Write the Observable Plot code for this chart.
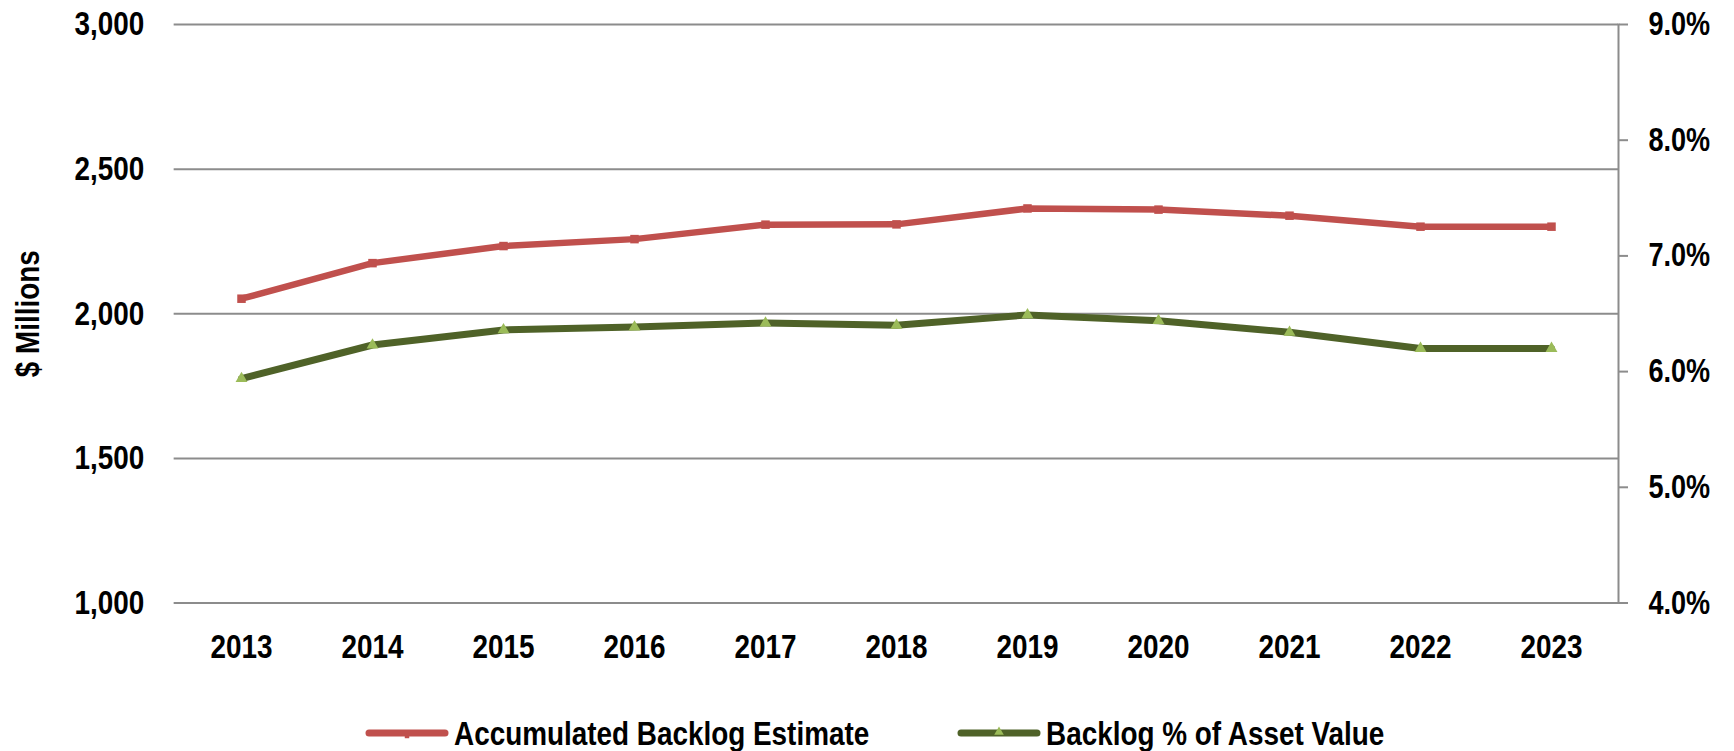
<!DOCTYPE html>
<html><head><meta charset="utf-8">
<script src="https://cdn.jsdelivr.net/npm/d3@7"></script>
<script src="https://cdn.jsdelivr.net/npm/@observablehq/plot@0.6"></script>
<style>
body{margin:0;background:#fff;width:1734px;height:751px;overflow:hidden;position:relative;font-family:"Liberation Sans","Arial",sans-serif;font-weight:bold;}
#chart{position:absolute;left:0;top:0;}
.legend-item{position:absolute;top:711px;height:44px;display:flex;align-items:center;font-size:34px;color:#000;white-space:nowrap;}
.legend-item svg{margin-right:5px;flex:none;}
.legend-item span{display:inline-block;transform:scaleX(0.82);transform-origin:0 50%;}
</style></head><body>
<div id="chart"></div>
<div id="legend"></div>
<script>
const years = ["2013","2014","2015","2016","2017","2018","2019","2020","2021","2022","2023"];
const backlog = [2052, 2175, 2234, 2258, 2308, 2309, 2364, 2360, 2339, 2301, 2301];
const backlogPct = [5.94, 6.23, 6.36, 6.385, 6.42, 6.40, 6.49, 6.44, 6.34, 6.20, 6.20];
const leftTicks = [1000, 1500, 2000, 2500, 3000];
const rightTicks = [4, 5, 6, 7, 8, 9];
const seriesNames = ["Accumulated Backlog Estimate", "Backlog % of Asset Value"];
const yTitle = "$ Millions";

const RED = "#C0504D", DKGREEN = "#4F6228", LTGREEN = "#9BBB59", GRID = "#8c8c8c";
const FONT = '"Liberation Sans","Arial",sans-serif';

// right axis (4%..9%) mapped onto the left scale (1000..3000)
const pctToLeft = p => 1000 + (p - 4) * (2000 / 5);
const leftToPct = v => (v - 1000) / 400 + 4;

const data = years.map((year, i) => ({year, backlog: backlog[i], pct: backlogPct[i]}));

const chart = Plot.plot({
  width: 1734, height: 690,
  marginTop: 24, marginBottom: 87.5, marginLeft: 173.65, marginRight: 116,
  style: {fontFamily: FONT, fontWeight: "bold", fontSize: "33px", color: "#000", background: "transparent"},
  x: {type: "point", domain: years, padding: 0.5},
  y: {domain: [1000, 3000]},
  marks: [
    Plot.gridY(leftTicks, {stroke: GRID, strokeOpacity: 1, strokeWidth: 2}),
    Plot.frame({anchor: "right", stroke: GRID, strokeOpacity: 1, strokeWidth: 2}),
    Plot.axisX({tickSize: 0, tickPadding: 31, label: null, fontSize: 34}),
    Plot.axisY(leftTicks, {anchor: "left", tickSize: 0, tickPadding: 30, tickFormat: d3.format(","),
      label: yTitle, labelAnchor: "center", labelOffset: 159, labelArrow: "none", fontSize: 34}),
    Plot.axisY(rightTicks.map(pctToLeft), {anchor: "right", tickSize: 9, tickPadding: 21,
      tickFormat: v => leftToPct(v).toFixed(1) + "%", stroke: GRID, strokeWidth: 2, label: null, fontSize: 33}),
    Plot.line(data, {x: "year", y: "backlog", stroke: RED, strokeWidth: 6.5}),
    Plot.dot(data, {x: "year", y: "backlog", symbol: "square", r: 4.8, fill: RED}),
    Plot.line(data, {x: "year", y: d => pctToLeft(d.pct), stroke: DKGREEN, strokeWidth: 7}),
    Plot.dot(data, {x: "year", y: d => pctToLeft(d.pct), symbol: "triangle", r: 4.4, fill: LTGREEN})
  ]
});
document.getElementById("chart").appendChild(chart);

// condense all chart text to an Arial-Narrow-like width
chart.querySelectorAll("text").forEach(t => {
  const len = t.getComputedTextLength();
  if (len > 0) {
    t.setAttribute("textLength", (len * 0.82).toFixed(2));
    t.setAttribute("lengthAdjust", "spacingAndGlyphs");
  }
});

// legend
const legend = document.getElementById("legend");
const items = [
  {name: seriesNames[0], line: RED, marker: "square", mfill: RED, left: 365},
  {name: seriesNames[1], line: DKGREEN, marker: "triangle", mfill: LTGREEN, left: 957}
];
for (const it of items) {
  const div = document.createElement("div");
  div.className = "legend-item";
  div.style.left = it.left + "px";
  const sw = d3.create("svg").attr("width", 84).attr("height", 20);
  sw.append("line").attr("x1", 4).attr("x2", 80).attr("y1", 10).attr("y2", 10)
    .attr("stroke", it.line).attr("stroke-width", 7).attr("stroke-linecap", "round");
  const sym = it.marker === "square" ? d3.symbolSquare : d3.symbolTriangle;
  sw.append("path").attr("d", d3.symbol(sym, it.marker === "square" ? 20 : 40)())
    .attr("transform", it.marker === "square" ? "translate(42,13)" : "translate(42,9)").attr("fill", it.mfill);
  div.appendChild(sw.node());
  const span = document.createElement("span");
  span.textContent = it.name;
  div.appendChild(span);
  legend.appendChild(div);
}
</script>
</body></html>
